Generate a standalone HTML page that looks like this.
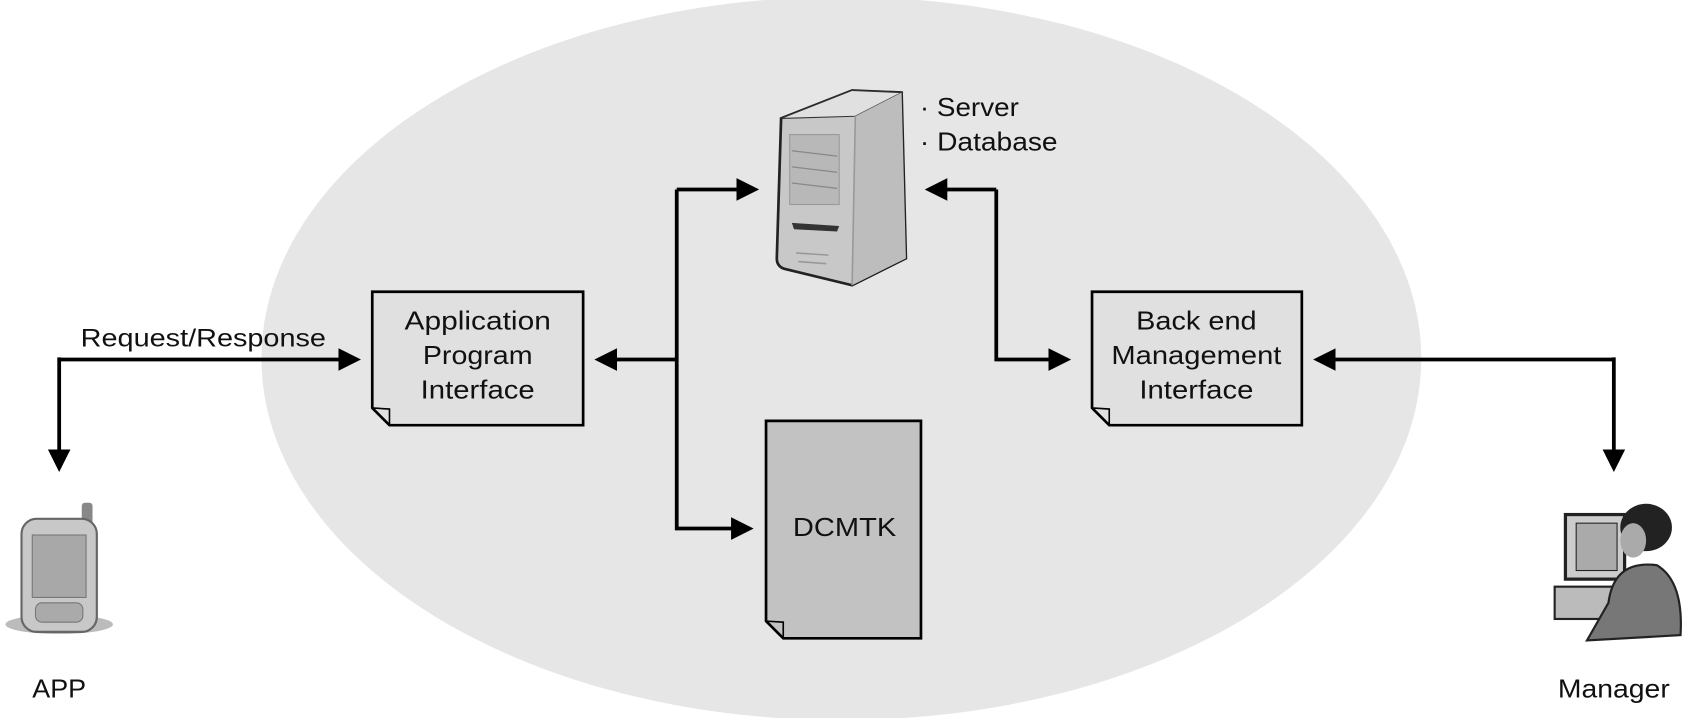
<!DOCTYPE html>
<html><head><meta charset="utf-8"><style>
html,body{margin:0;padding:0;background:#fff;}
svg{display:block;}
text{font-family:"Liberation Sans",sans-serif;fill:#111;}
</style></head><body>
<svg width="1687" height="718" viewBox="0 0 1568 667" preserveAspectRatio="none" xmlns="http://www.w3.org/2000/svg">
<defs>
<marker id="ah" markerWidth="6" markerHeight="6" refX="5" refY="3" orient="auto" markerUnits="strokeWidth">
<path d="M0,0 L6,3 L0,6 Z" fill="#000"/></marker>
</defs>
<ellipse cx="782" cy="333" rx="539" ry="336" fill="#e6e6e6"/>

<!-- API box -->
<path d="M346,271 H542 V395 H362 L346,379 Z" fill="#e0e0e0" stroke="#000" stroke-width="2.5"/>
<path d="M346,379 L362,380 L362,395" fill="none" stroke="#000" stroke-width="1.5"/>
<g font-size="24" text-anchor="middle" lengthAdjust="spacingAndGlyphs">
<text x="444" y="306" textLength="136" lengthAdjust="spacingAndGlyphs">Application</text>
<text x="444" y="338" textLength="102" lengthAdjust="spacingAndGlyphs">Program</text>
<text x="444" y="370" textLength="106" lengthAdjust="spacingAndGlyphs">Interface</text>
</g>
<!-- BMI box -->
<path d="M1015,271 H1210 V395 H1031 L1015,379 Z" fill="#e0e0e0" stroke="#000" stroke-width="2.5"/>
<path d="M1015,379 L1031,380 L1031,395" fill="none" stroke="#000" stroke-width="1.5"/>
<g font-size="24" text-anchor="middle">
<text x="1112" y="306" textLength="112" lengthAdjust="spacingAndGlyphs">Back end</text>
<text x="1112" y="338" textLength="158" lengthAdjust="spacingAndGlyphs">Management</text>
<text x="1112" y="370" textLength="106" lengthAdjust="spacingAndGlyphs">Interface</text>
</g>
<!-- DCMTK -->
<path d="M712,391 H856 V593 H728 L712,577 Z" fill="#c2c2c2" stroke="#000" stroke-width="2.5"/>
<path d="M712,577 L728,578 L728,593" fill="none" stroke="#000" stroke-width="1.5"/>
<text x="785" y="498" font-size="24" text-anchor="middle" textLength="96" lengthAdjust="spacingAndGlyphs">DCMTK</text>

<!-- Server -->
<path d="M726,110 L792,84 L838,86 L842,240 L792,265 L730,250 Q722,248 722,240 Z" fill="#c8c8c8" stroke="#222" stroke-width="2.5"/>
<path d="M726,110 L792,84 L838,86 L795,108 Z" fill="#e0e0e0" stroke="#333" stroke-width="1"/>
<path d="M795,108 L838,86 L842,240 L792,265 Z" fill="#bdbdbd"/>
<path d="M795,108 L792,265" stroke="#999" stroke-width="1.5"/>
<rect x="734" y="125" width="46" height="65" fill="#b8b8b8" stroke="#999"/>
<g stroke="#888" stroke-width="1.2"><line x1="736" y1="140" x2="778" y2="145"/><line x1="736" y1="155" x2="778" y2="160"/><line x1="736" y1="170" x2="778" y2="175"/></g>
<path d="M736,207 L780,210 L778,215 L738,213 Z" fill="#333"/>
<g stroke="#999" stroke-width="1.5"><line x1="740" y1="235" x2="770" y2="237"/><line x1="742" y1="243" x2="768" y2="245"/></g>
<g font-size="24"><text x="855" y="108" textLength="92" lengthAdjust="spacingAndGlyphs">· Server</text><text x="855" y="140" textLength="128" lengthAdjust="spacingAndGlyphs">· Database</text></g>

<!-- connectors -->
<g stroke="#000" stroke-width="3.5" fill="none">
<polyline points="55,334 332,334" marker-end="url(#ah)"/>
<polyline points="55,332 55,435" marker-end="url(#ah)"/>
<polyline points="629,334 556,334" marker-end="url(#ah)"/>
<polyline points="629,176 629,491 697,491" marker-end="url(#ah)"/>
<polyline points="629,176 702,176" marker-end="url(#ah)"/>
<polyline points="926,176 863,176" marker-end="url(#ah)"/>
<polyline points="926,176 926,334 992,334" marker-end="url(#ah)"/>
<polyline points="1500,334 1224,334" marker-end="url(#ah)"/>
<polyline points="1500,332 1500,435" marker-end="url(#ah)"/>
</g>
<text x="75" y="322" font-size="23" textLength="228" lengthAdjust="spacingAndGlyphs">Request/Response</text>

<!-- phone -->
<ellipse cx="55" cy="580" rx="50" ry="9" fill="#bbb"/>
<rect x="76" y="467" width="10" height="22" rx="3" fill="#888"/>
<rect x="20" y="482" width="70" height="105" rx="14" fill="#c8c8c8" stroke="#666" stroke-width="2"/>
<rect x="30" y="497" width="50" height="58" fill="#a8a8a8" stroke="#777"/>
<rect x="33" y="560" width="44" height="18" rx="6" fill="#aaa" stroke="#777"/>
<text x="55" y="648" font-size="24" text-anchor="middle" textLength="50" lengthAdjust="spacingAndGlyphs">APP</text>

<!-- manager -->
<rect x="1455" y="478" width="55" height="60" fill="#ccc" stroke="#222" stroke-width="3"/>
<rect x="1465" y="486" width="38" height="44" fill="#aaa" stroke="#222"/>
<rect x="1445" y="545" width="60" height="30" fill="#bbb" stroke="#222" stroke-width="2"/>
<ellipse cx="1530" cy="490" rx="24" ry="22" fill="#222"/>
<ellipse cx="1518" cy="502" rx="12" ry="16" fill="#aaa"/>
<path d="M1495,560 Q1500,520 1540,525 Q1565,540 1562,590 L1475,595 Z" fill="#777" stroke="#222" stroke-width="2"/>
<text x="1500" y="648" font-size="24" text-anchor="middle" textLength="104" lengthAdjust="spacingAndGlyphs">Manager</text>
</svg>
</body></html>
